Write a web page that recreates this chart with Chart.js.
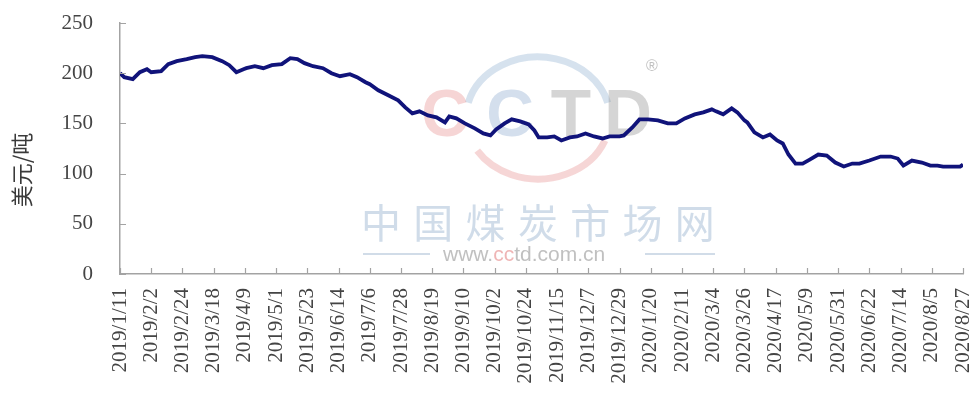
<!DOCTYPE html>
<html>
<head>
<meta charset="utf-8">
<script src="https://cdn.jsdelivr.net/npm/chart.js@4/dist/chart.umd.min.js"></script>
<style>
  body { margin: 0; background: #fff; }
</style>
</head>
<body>
<canvas id="priceChart" width="974" height="401"></canvas>
<script>
// tick labels along the x axis, one every 22 days from 2019/1/11
const tickLabels = ['2019/1/11', '2019/2/2', '2019/2/24', '2019/3/18', '2019/4/9', '2019/5/1',
  '2019/5/23', '2019/6/14', '2019/7/6', '2019/7/28', '2019/8/19', '2019/9/10', '2019/10/2',
  '2019/10/24', '2019/11/15', '2019/12/7', '2019/12/29', '2020/1/20', '2020/2/11', '2020/3/4',
  '2020/3/26', '2020/4/17', '2020/5/9', '2020/5/31', '2020/6/22', '2020/7/14', '2020/8/5', '2020/8/27'];
const tickStep = 22;

// sample days (offset from 2019/1/11) and price in 美元/吨
const sampleDays = [0, 3, 9, 14, 19, 22, 29, 34, 40, 47, 53, 58, 65, 72, 77, 82, 87, 89, 95, 101,
  107, 114, 120, 125, 130, 136, 143, 149, 155, 162, 167, 173, 176, 182, 189, 196, 201, 206, 211, 217,
  223, 229, 232, 237, 243, 250, 256, 261, 265, 271, 276, 282, 288, 292, 295, 301, 306, 311, 317, 322,
  328, 334, 340, 345, 352, 355, 361, 366, 372, 379, 386, 392, 398, 405, 411, 417, 420, 425, 431, 435,
  440, 442, 447, 453, 458, 463, 467, 471, 476, 481, 486, 492, 498, 504, 510, 516, 521, 528, 536, 543,
  548, 552, 558, 565, 571, 576, 580, 586, 592, 594];
const prices = [200, 196, 194, 201, 204, 201, 202, 209, 212, 214, 216, 217, 216, 212, 208, 201, 204, 205, 207, 205,
  208, 209, 215, 214, 210, 207, 205, 200, 197, 199, 196, 191, 189, 183, 178, 173, 166, 160, 162, 158,
  156, 151, 157, 155, 150, 145, 140, 138, 144, 150, 154, 152, 149, 143, 136, 136, 137, 133, 136, 137,
  140, 137, 135, 137, 137, 138, 146, 154, 154, 153, 150, 150, 155, 159, 161, 164, 162, 159, 165, 161,
  153, 151, 141, 136, 139, 133, 130, 119, 110, 110, 114, 119, 118, 111, 107, 110, 110, 113, 117, 117,
  115, 108, 113, 111, 108, 108, 107, 107, 107, 109];

const yTitle = '美元/吨';
const axisColor = '#a3a3a3';

const points = sampleDays.map((d, i) => ({ x: d, y: prices[i] }));

// faint site watermark behind the line
const watermark = {
  id: 'watermark',
  beforeDatasetsDraw(chart) {
    const c = chart.ctx;
    c.save();
    c.lineWidth = 7;
    c.strokeStyle = 'rgba(165,190,218,0.45)';
    c.beginPath();
    c.ellipse(538, 118, 72, 61, 0, Math.PI * 1.08, Math.PI * 1.92);
    c.stroke();
    c.strokeStyle = 'rgba(236,165,165,0.45)';
    c.beginPath();
    c.ellipse(538, 118, 72, 61, 0, Math.PI * 0.12, Math.PI * 0.82);
    c.stroke();

    c.font = 'bold 66px "Liberation Sans"';
    c.textBaseline = 'middle';
    c.textAlign = 'center';
    const letters = [['C', 445, 'rgba(232,150,150,0.4)'], ['C', 510, 'rgba(160,185,215,0.45)'],
      ['T', 571, 'rgba(150,150,150,0.4)'], ['D', 628, 'rgba(150,150,150,0.4)']];
    letters.forEach(([t, x, col]) => { c.fillStyle = col; c.fillText(t, x, 118); });
    c.font = '16px "Liberation Sans"';
    c.fillStyle = 'rgba(150,150,150,0.6)';
    c.fillText('®', 652, 67);

    c.font = '40px "Noto Sans CJK SC"';
    c.fillStyle = 'rgba(170,192,215,0.55)';
    Array.from('中国煤炭市场网').forEach((ch, i) => c.fillText(ch, 381 + i * 52.3, 223));

    c.font = '21px "Liberation Sans"';
    c.textAlign = 'left';
    const parts = [['www.', 'rgba(165,165,165,0.7)'], ['cc', 'rgba(232,150,150,0.7)'], ['td.com.cn', 'rgba(165,165,165,0.7)']];
    let px = 443;
    parts.forEach(([t, col]) => { c.fillStyle = col; c.fillText(t, px, 255); px += c.measureText(t).width; });
    c.strokeStyle = 'rgba(190,205,222,0.7)';
    c.lineWidth = 2;
    c.beginPath();
    c.moveTo(363, 254); c.lineTo(430, 254);
    c.moveTo(645, 254); c.lineTo(715, 254);
    c.stroke();
    c.restore();
  }
};

// ticks pointing into the plot, plus the y title
const axisExtras = {
  id: 'axisExtras',
  afterDraw(chart) {
    const c = chart.ctx;
    const xs = chart.scales.x, ys = chart.scales.y;
    const area = chart.chartArea;
    c.save();
    c.strokeStyle = axisColor;
    c.lineWidth = 1.2;
    c.beginPath();
    xs.ticks.forEach(t => {
      const p = Math.round(xs.getPixelForValue(t.value)) + 0.5;
      c.moveTo(p, area.bottom); c.lineTo(p, area.bottom - 6);
    });
    ys.ticks.forEach(t => {
      const p = Math.round(ys.getPixelForValue(t.value)) + 0.5;
      c.moveTo(area.left, p); c.lineTo(area.left + 6, p);
    });
    c.stroke();

    c.translate(22, 170);
    c.rotate(-Math.PI / 2);
    c.font = '22px "Noto Sans CJK SC"';
    c.fillStyle = '#3a3a3a';
    c.textAlign = 'center';
    c.textBaseline = 'middle';
    c.fillText(yTitle, 0, 0);
    c.restore();
  }
};

new Chart(document.getElementById('priceChart'), {
  type: 'line',
  data: {
    datasets: [{
      data: points,
      borderColor: '#10137a',
      borderWidth: 3.8,
      pointRadius: 0,
      tension: 0,
      fill: false
    }]
  },
  options: {
    responsive: false,
    animation: false,
    layout: { padding: { top: 23, right: 11, left: 0, bottom: 0 } },
    plugins: { legend: { display: false }, tooltip: { enabled: false } },
    scales: {
      x: {
        type: 'linear',
        min: 0,
        max: 594,
        afterFit: (scale) => {
          scale.height = 127;
          scale.paddingLeft = 0;
          scale.paddingRight = 0;
        },
        grid: { drawOnChartArea: false, drawTicks: false },
        border: { color: axisColor, width: 1.5 },
        ticks: {
          stepSize: tickStep,
          autoSkip: false,
          minRotation: 90,
          maxRotation: 90,
          padding: 14,
          color: '#444',
          font: { family: '"Liberation Serif"', size: 21 },
          callback: (v) => tickLabels[Math.round(v / tickStep)]
        }
      },
      y: {
        min: 0,
        max: 250,
        afterFit: (scale) => {
          scale.width = 120;
          scale.paddingTop = 0;
          scale.paddingBottom = 0;
        },
        grid: { drawOnChartArea: false, drawTicks: false },
        border: { color: axisColor, width: 1.5 },
        ticks: {
          stepSize: 50,
          padding: 27,
          color: '#444',
          font: { family: '"Liberation Serif"', size: 21 }
        }
      }
    }
  },
  plugins: [watermark, axisExtras]
});
</script>
</body>
</html>
